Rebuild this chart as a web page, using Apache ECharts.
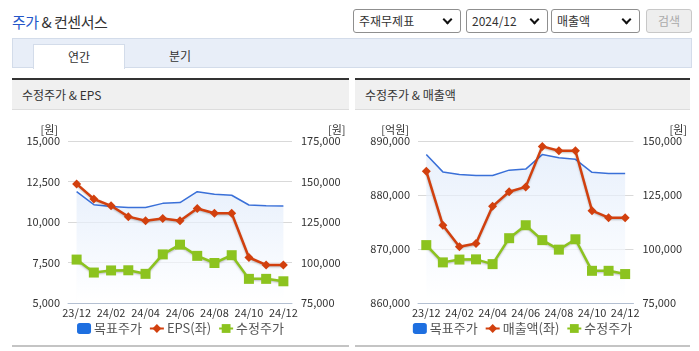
<!DOCTYPE html>
<html>
<head>
<meta charset="utf-8">
<script src="https://cdn.jsdelivr.net/npm/echarts@6/dist/echarts.min.js"></script>
<style>
    body{margin:0;width:699px;height:351px;background:#fff;font-family:"Noto Sans CJK KR","Noto Sans",sans-serif;color:#333;position:relative;overflow:hidden}
    .title{position:absolute;left:12px;top:11px;font-size:15px;letter-spacing:-0.5px}
    .title b{font-weight:normal;color:#2456c8}
    .sel{position:absolute;top:9px;height:22px;border:1px solid #8f8f8f;border-radius:3px;font-size:12px;line-height:22px;padding-left:5px;box-sizing:content-box;background:#fff}
    .sel:after{content:"";position:absolute;right:9px;top:6px;width:5px;height:5px;border-right:2px solid #111;border-bottom:2px solid #111;transform:rotate(45deg)}
    .btn{position:absolute;left:646px;top:9px;width:44px;height:22px;border:1px solid #c8c8c8;border-radius:3px;background:#eee;color:#aaa;font-size:12px;line-height:22px;text-align:center}
    .tabs{position:absolute;left:12px;top:38px;width:678px;height:28px;background:#e8eef8;border:1px solid #d3dcea}
    .tab{position:absolute;top:5px;height:24px;width:90px;text-align:center;font-size:12px;line-height:24px}
    .tab.on{left:20px;background:#fff;border:1px solid #d3dcea;border-bottom:none}
    .panel{position:absolute;top:78px;height:265px;border-top:2px solid #333;border-bottom:2px solid #c4c4c4}
    .phead{height:29px;background:#f0f0f0;border-bottom:1px solid #ddd;font-size:12px;line-height:29px;padding-left:10px}
    .chart{position:absolute;left:0;top:31px;width:100%;height:232px}
</style>
</head>
<body>
<div class="title"><b>주가</b> &amp; 컨센서스</div>
<div class="sel" style="left:353px;width:101px">주재무제표</div>
<div class="sel" style="left:466px;width:75px">2024/12</div>
<div class="sel" style="left:551px;width:82px">매출액</div>
<div class="btn">검색</div>
<div class="tabs">
    <div class="tab on">연간</div>
    <div class="tab" style="left:122px">분기</div>
</div>
<div class="panel" style="left:12px;width:337px">
    <div class="phead">수정주가 &amp; EPS</div>
    <div class="chart" id="echart1"></div>
</div>
<div class="panel" style="left:355px;width:335px">
    <div class="phead">수정주가 &amp; 매출액</div>
    <div class="chart" id="echart2"></div>
</div>
<script>
{
    /*데이터*/
    const months = ['23/12','24/01','24/02','24/03','24/04','24/05','24/06','24/07','24/08','24/09','24/10','24/11','24/12'];
    const targetPrice = [143800, 135700, 134500, 134000, 134000, 136500, 137000, 143700, 142200, 141500, 135500, 135000, 134900];
    const adjPrice = [101800, 93800, 95100, 95200, 93000, 105000, 111000, 104100, 99700, 104500, 89900, 89900, 88400];
    const eps = [12350, 11420, 11000, 10330, 10080, 10210, 10080, 10830, 10540, 10540, 7810, 7350, 7350];
    const sales = [884400, 874400, 870400, 871000, 877900, 880600, 881500, 889000, 888200, 888200, 877100, 875800, 875800];

    const txt = {fontFamily:'"Noto Sans CJK KR", sans-serif', color:'#333'};

    function makeOption(cfg){
        return {
            animation:false,
            textStyle:txt,
            legend:{
                bottom:3,
                left:'center',
                itemGap:7,
                itemWidth:14,
                itemHeight:11,
                textStyle:{fontSize:13, color:'#555', padding:[0,0,0,-2]},
                data:[
                    {name:'목표주가', icon:'roundRect', itemStyle:{color:'#1e6fe0'}},
                    cfg.leftName,
                    '수정주가'
                ]
            },
            grid:{left:cfg.gl, right:cfg.gr, top:30, bottom:40},
            xAxis:{
                type:'category',
                data:months,
                boundaryGap:true,
                axisLine:{lineStyle:{color:'#b4c0d2'}},
                axisTick:{length:5, lineStyle:{color:'#b4c0d2'}, interval:(i)=>i%2===1},
                axisLabel:{interval:1, fontSize:11, color:'#333', margin:4}
            },
            yAxis:[
                {
                    type:'value', min:cfg.lmin, max:cfg.lmax, interval:cfg.lint,
                    name:cfg.lunit, nameGap:6,
                    nameTextStyle:{align:'right', fontSize:11, color:'#333', padding:[0,cfg.lpad,0,0]},
                    axisLabel:{fontSize:11, color:'#333', margin:8, formatter:(v)=>v.toLocaleString('en-US')},
                    splitLine:{lineStyle:{color:'#d9d9d9'}},
                    axisLine:{show:false}, axisTick:{show:false}
                },
                {
                    type:'value', min:75000, max:cfg.rmax, interval:25000,
                    name:'[원]', nameGap:6,
                    nameTextStyle:{align:'left', fontSize:11, color:'#333', padding:[0,0,0,cfg.rpad]},
                    axisLabel:{fontSize:11, color:'#333', margin:9, formatter:(v)=>v.toLocaleString('en-US')},
                    splitLine:{show:false},
                    axisLine:{show:false}, axisTick:{show:false}
                }
            ],
            series:[
                {
                    name:'목표주가', type:'line', yAxisIndex:1, data:targetPrice,
                    symbol:'none', color:'#3a70d8',
                    lineStyle:{width:1.5, color:'#3a70d8'},
                    areaStyle:{
                        origin:'start',
                        color:new echarts.graphic.LinearGradient(0,0,0,1,[
                            {offset:0, color:'#dfeafa'},
                            {offset:1, color:'#ffffff'}
                        ])
                    },
                    z:1
                },
                {
                    name:'수정주가', type:'line', yAxisIndex:1, data:adjPrice,
                    symbol:'rect', symbolSize:10, color:'#8cc31f',
                    lineStyle:{width:2.5, shadowColor:'rgba(0,0,0,0.25)', shadowBlur:2, shadowOffsetY:1},
                    z:3
                },
                {
                    name:cfg.leftName, type:'line', yAxisIndex:0, data:cfg.leftData,
                    symbol:'diamond', symbolSize:9, color:'#d2400e',
                    lineStyle:{width:2.5, shadowColor:'rgba(0,0,0,0.25)', shadowBlur:2, shadowOffsetY:1},
                    z:4
                }
            ]
        };
    }

    const chart1 = echarts.init(document.getElementById('echart1'));
    chart1.setOption(makeOption({
        leftName:'EPS(좌)', leftData:eps,
        gl:56, gr:57, lmin:5000, lmax:15000, lint:2500, lunit:'[원]', lpad:10,
        rmax:175000, rpad:36
    }));

    const chart2 = echarts.init(document.getElementById('echart2'));
    chart2.setOption(makeOption({
        leftName:'매출액(좌)', leftData:sales,
        gl:63, gr:54, lmin:860000, lmax:890000, lint:10000, lunit:'[억원]', lpad:9,
        rmax:150000, rpad:36
    }));
}
</script>
</body>
</html>
